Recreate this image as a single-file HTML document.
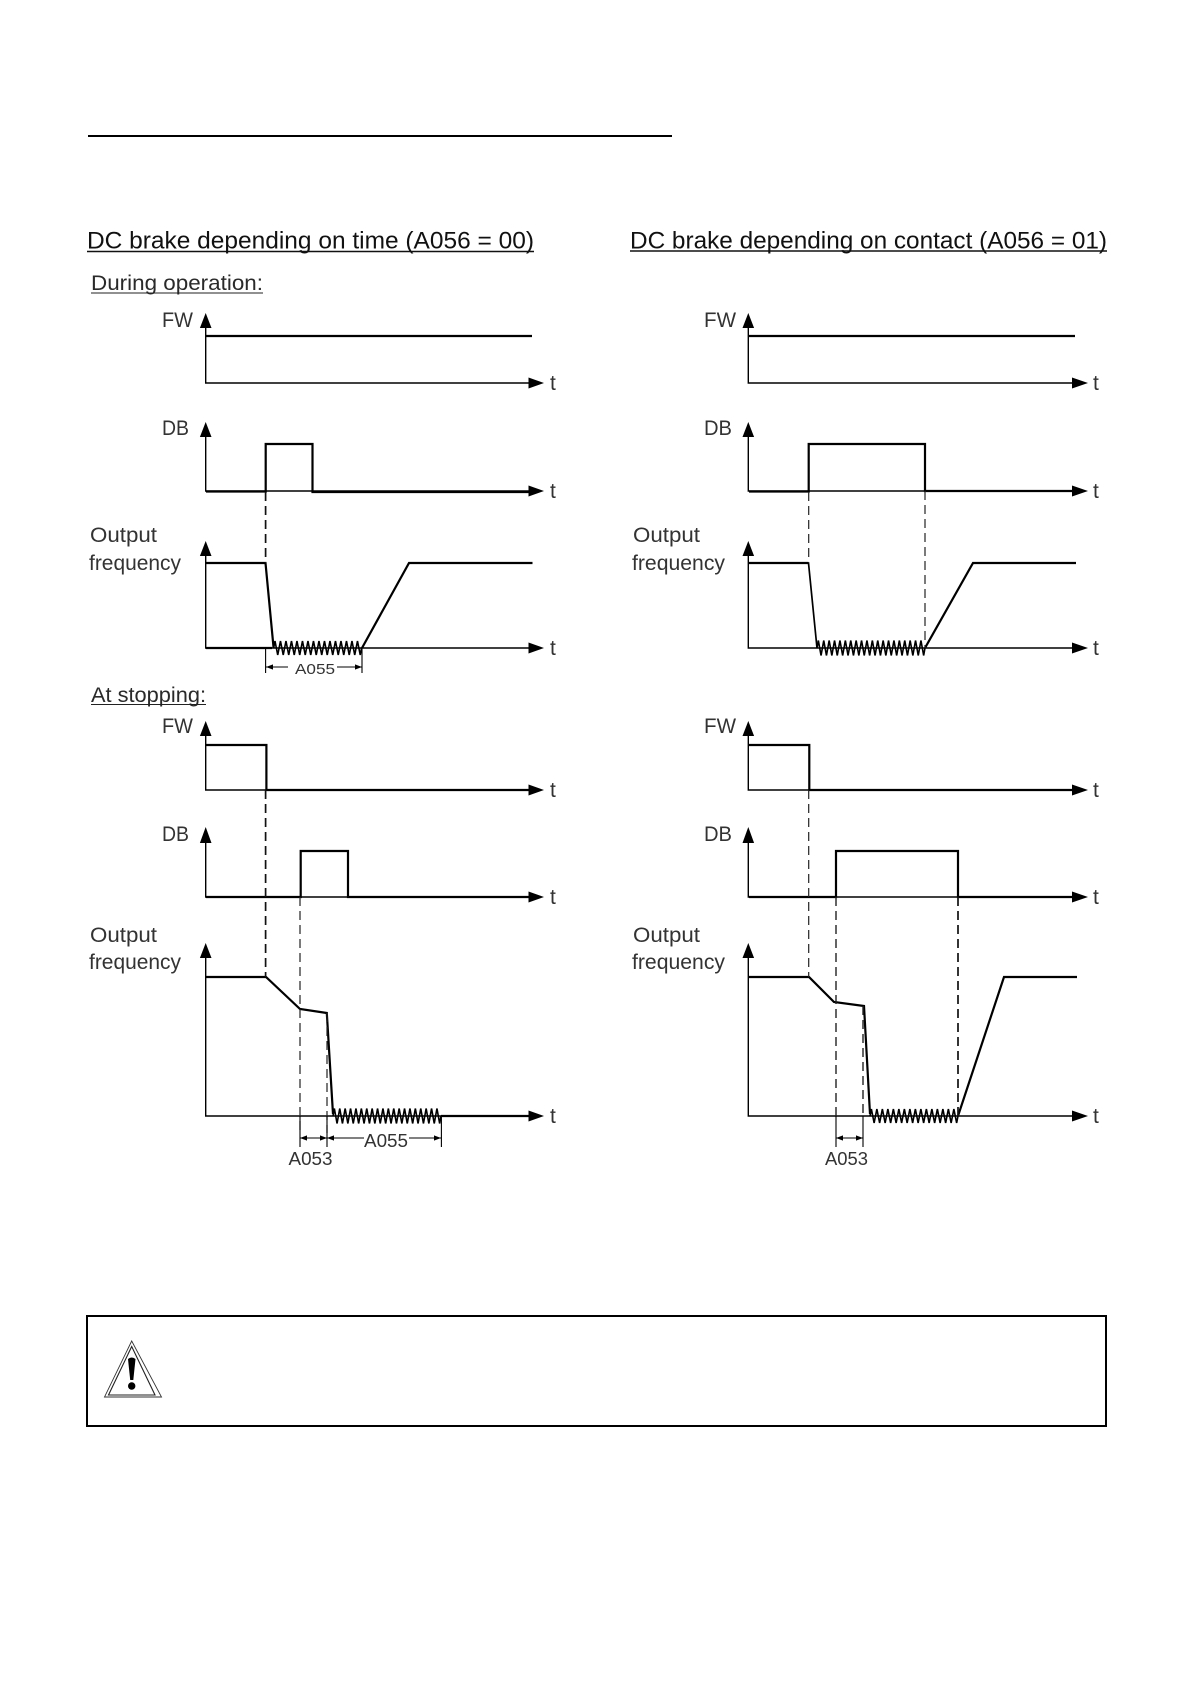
<!DOCTYPE html>
<html lang="en">
<head>
<meta charset="utf-8">
<title>DC brake diagrams</title>
<style>
html,body{margin:0;padding:0;background:#fff;width:1190px;height:1684px;overflow:hidden}
svg{display:block}
text{font-family:"Liberation Sans",sans-serif;fill:#2a2a2a}
.h{font-size:24px;fill:#111}
.s{font-size:21px}
.l{font-size:21px;fill:#333}
.d{font-size:18px;fill:#333}
.a{stroke:#000;stroke-width:1.4;fill:none}
.k{stroke:#000;stroke-width:2.2;fill:none;stroke-linejoin:miter}
.n{stroke:#222;stroke-width:1.2;fill:none;stroke-dasharray:9 5}
.m{stroke:#111;stroke-width:1.7;fill:none;stroke-dasharray:9 5}
.z{stroke:#000;stroke-width:1.6;fill:none}
.t{stroke:#000;stroke-width:1.1;fill:none}
</style>
</head>
<body>
<svg width="1190" height="1684" viewBox="0 0 1190 1684" xmlns="http://www.w3.org/2000/svg">
<rect width="1190" height="1684" fill="#fff"/>
<defs>
<path id="z16" class="z" d="M0 0l1.375-7 2.75 14 2.75-14 2.75 14 2.75-14 2.75 14 2.75-14 2.75 14 2.75-14 2.75 14 2.75-14 2.75 14 2.75-14 2.75 14 2.75-14 2.75 14 2.75-14 2.75 14 2.75-14 2.75 14 2.75-14 2.75 14 2.75-14 2.75 14 2.75-14 2.75 14 2.75-14 2.75 14 2.75-14 2.75 14 2.75-14 2.75 14 1.375-7"/>
<path id="z20" class="z" d="M0 0l1.35-7.5 2.7 15 2.7-15 2.7 15 2.7-15 2.7 15 2.7-15 2.7 15 2.7-15 2.7 15 2.7-15 2.7 15 2.7-15 2.7 15 2.7-15 2.7 15 2.7-15 2.7 15 2.7-15 2.7 15 2.7-15 2.7 15 2.7-15 2.7 15 2.7-15 2.7 15 2.7-15 2.7 15 2.7-15 2.7 15 2.7-15 2.7 15 2.7-15 2.7 15 2.7-15 2.7 15 2.7-15 2.7 15 2.7-15 2.7 15 1.35-7.5"/>
</defs>

<!-- top rule -->
<line x1="88" y1="136" x2="672" y2="136" stroke="#000" stroke-width="2"/>

<!-- headings -->
<text class="h" x="87" y="248.5" textLength="447" lengthAdjust="spacingAndGlyphs">DC brake depending on time (A056 = 00)</text>
<line x1="87" y1="251.5" x2="534" y2="251.5" stroke="#111" stroke-width="1.4"/>
<text class="h" x="630" y="248.5" textLength="477" lengthAdjust="spacingAndGlyphs">DC brake depending on contact (A056 = 01)</text>
<line x1="630" y1="251" x2="1107" y2="251" stroke="#111" stroke-width="1.4"/>
<text class="s" x="91" y="290" textLength="172" lengthAdjust="spacingAndGlyphs">During operation:</text>
<line x1="91" y1="293" x2="263" y2="293" stroke="#222" stroke-width="1.1"/>
<text class="s" x="91" y="702" textLength="115" lengthAdjust="spacingAndGlyphs">At stopping:</text>
<line x1="91" y1="704.5" x2="206" y2="704.5" stroke="#222" stroke-width="1.1"/>

<!-- LEFT COLUMN axes -->
<g class="a">
<path d="M205.7 326V383H530"/>
<path d="M205.7 435V491H530"/>
<path d="M205.7 555V648H530"/>
<path d="M205.7 735V790H530"/>
<path d="M205.7 842V897H530"/>
<path d="M205.7 957V1116H530"/>
</g>
<g fill="#000">
<path d="M205.7 313l-5.8 15h11.6z"/><path d="M205.7 422l-5.8 15h11.6z"/><path d="M205.7 541l-5.8 15h11.6z"/><path d="M205.7 721l-5.8 15h11.6z"/><path d="M205.7 827l-5.8 16h11.6z"/><path d="M205.7 943l-5.8 15h11.6z"/>
<path d="M544 383l-15.5-5.5v11z"/><path d="M544 491l-15.5-5.5v11z"/><path d="M544 648l-15.5-5.5v11z"/><path d="M544 790l-15.5-5.5v11z"/><path d="M544 897l-15.5-5.5v11z"/><path d="M544 1116l-15.5-5.5v11z"/>
</g>
<!-- LEFT signals -->
<path class="k" d="M206 336H532"/>
<path class="k" d="M206 491.5H265.7V444H312.5V492H530"/>
<path class="k" d="M206 563H265.5L273.6 648M206 648H272"/>
<use href="#z16" x="273.6" y="648"/>
<path class="k" d="M362 648L409 563H532.5"/>
<path class="k" d="M206 745H266.4V790H530"/>
<path class="k" d="M206 897H300.7V851H348V897H530"/>
<path class="k" d="M206 977H266L300 1009L326.8 1013L333 1114"/>
<use href="#z20" x="333" y="1116"/>
<path class="k" d="M441 1116H530"/>
<!-- LEFT dashes -->
<path class="m" d="M265.6 492V563"/>
<path class="m" d="M265.6 790V977"/>
<path class="n" d="M300 897V1133"/>
<path class="n" d="M327 1013V1133"/>
<!-- LEFT dims -->
<g class="t">
<path d="M265.6 648V673M362 648V673"/>
<path d="M266 667H288M337 667H362"/>
<path d="M300 1116V1147M327 1116V1147M441.4 1116V1147"/>
<path d="M300 1138H327M327 1138H364M409 1138H441"/>
</g>
<g fill="#000">
<path d="M266 667l7-2.6v5.2z"/><path d="M362 667l-7-2.6v5.2z"/>
<path d="M300 1138l7-2.6v5.2z"/><path d="M327 1138l-7-2.6v5.2z"/><path d="M327 1138l7-2.6v5.2z"/><path d="M441 1138l-7-2.6v5.2z"/>
</g>
<!-- LEFT labels -->
<text class="l" x="162" y="327" textLength="31" lengthAdjust="spacingAndGlyphs">FW</text>
<text class="l" x="162" y="435" textLength="27" lengthAdjust="spacingAndGlyphs">DB</text>
<text class="l" x="90" y="542" textLength="67" lengthAdjust="spacingAndGlyphs">Output</text>
<text class="l" x="89" y="570" textLength="92" lengthAdjust="spacingAndGlyphs">frequency</text>
<text class="l" x="162" y="733" textLength="31" lengthAdjust="spacingAndGlyphs">FW</text>
<text class="l" x="162" y="841" textLength="27" lengthAdjust="spacingAndGlyphs">DB</text>
<text class="l" x="90" y="942" textLength="67" lengthAdjust="spacingAndGlyphs">Output</text>
<text class="l" x="89" y="969" textLength="92" lengthAdjust="spacingAndGlyphs">frequency</text>
<text class="d" style="font-size:15px" x="295" y="674" textLength="40" lengthAdjust="spacingAndGlyphs">A055</text>
<text class="d" x="364" y="1147" textLength="44" lengthAdjust="spacingAndGlyphs">A055</text>
<text class="d" x="288.5" y="1165" textLength="44" lengthAdjust="spacingAndGlyphs">A053</text>
<g class="l">
<text class="l" x="550" y="390">t</text><text class="l" x="550" y="498">t</text><text class="l" x="550" y="655">t</text><text class="l" x="550" y="797">t</text><text class="l" x="550" y="904">t</text><text class="l" x="550" y="1123">t</text>
</g>

<!-- RIGHT COLUMN axes -->
<g class="a">
<path d="M748.3 326V383H1074"/>
<path d="M748.3 435V491H1074"/>
<path d="M748.3 555V648H1074"/>
<path d="M748.3 735V790H1074"/>
<path d="M748.3 842V897H1074"/>
<path d="M748.3 957V1116H1074"/>
</g>
<g fill="#000">
<path d="M748.3 313l-5.8 15h11.6z"/><path d="M748.3 422l-5.8 15h11.6z"/><path d="M748.3 541l-5.8 15h11.6z"/><path d="M748.3 721l-5.8 15h11.6z"/><path d="M748.3 827l-5.8 16h11.6z"/><path d="M748.3 943l-5.8 15h11.6z"/>
<path d="M1088 383l-16-5.5v11z"/><path d="M1088 491l-16-5.5v11z"/><path d="M1088 648l-16-5.5v11z"/><path d="M1088 790l-16-5.5v11z"/><path d="M1088 897l-16-5.5v11z"/><path d="M1088 1116l-16-5.5v11z"/>
</g>
<!-- RIGHT signals -->
<path class="k" d="M749 336H1075"/>
<path class="k" d="M749 491.5H808.7V444H925V491H1074"/>
<path class="k" d="M749 563H808.5"/>
<path class="a" style="stroke-width:1.7" d="M808.5 563L817 648"/>
<use href="#z20" x="817" y="648"/>
<path class="k" d="M925 648L973 563H1076"/>
<path class="k" d="M749 745H809.3V790H1074"/>
<path class="k" d="M749 897H836V851H958V897H1074"/>
<path class="k" d="M749 977H809L834 1002L864 1006L870 1114"/>
<use href="#z16" x="870" y="1116"/>
<path class="k" d="M958 1116L1004 977H1077"/>
<!-- RIGHT dashes -->
<path class="n" d="M808.7 492V563"/>
<path class="n" d="M925 491V648"/>
<path class="n" d="M808.7 790V977"/>
<path class="n" style="stroke-width:1.4" d="M836 897V1116"/>
<path class="m" d="M958 897V1116"/>
<path class="n" style="stroke-width:1.4" d="M863 1006V1116"/>
<!-- RIGHT dims -->
<g class="t">
<path d="M836 1116V1147M863 1116V1147"/>
<path d="M836 1138H863"/>
</g>
<g fill="#000"><path d="M836 1138l7-2.6v5.2z"/><path d="M863 1138l-7-2.6v5.2z"/></g>
<!-- RIGHT labels -->
<text class="l" x="704" y="327" textLength="32" lengthAdjust="spacingAndGlyphs">FW</text>
<text class="l" x="704" y="435" textLength="28" lengthAdjust="spacingAndGlyphs">DB</text>
<text class="l" x="633" y="542" textLength="67" lengthAdjust="spacingAndGlyphs">Output</text>
<text class="l" x="632" y="570" textLength="93" lengthAdjust="spacingAndGlyphs">frequency</text>
<text class="l" x="704" y="733" textLength="32" lengthAdjust="spacingAndGlyphs">FW</text>
<text class="l" x="704" y="841" textLength="28" lengthAdjust="spacingAndGlyphs">DB</text>
<text class="l" x="633" y="942" textLength="67" lengthAdjust="spacingAndGlyphs">Output</text>
<text class="l" x="632" y="969" textLength="93" lengthAdjust="spacingAndGlyphs">frequency</text>
<text class="d" x="825" y="1165" textLength="43" lengthAdjust="spacingAndGlyphs">A053</text>
<text class="l" x="1093" y="390">t</text><text class="l" x="1093" y="498">t</text><text class="l" x="1093" y="655">t</text><text class="l" x="1093" y="797">t</text><text class="l" x="1093" y="904">t</text><text class="l" x="1093" y="1123">t</text>

<!-- warning box -->
<rect x="87" y="1316" width="1019" height="110" fill="#fff" stroke="#000" stroke-width="2"/>
<path d="M131.7 1341L104.5 1397H161.5Z" fill="none" stroke="#333" stroke-width="0.9"/>
<path d="M131.7 1346.5L108.5 1395H155Z" fill="none" stroke="#222" stroke-width="1.1"/>
<path d="M128 1359Q131.7 1356 135.5 1359L133.3 1380H130.2Z" fill="#000"/>
<circle cx="131.7" cy="1386" r="3.7" fill="#000"/>
</svg>
</body>
</html>
